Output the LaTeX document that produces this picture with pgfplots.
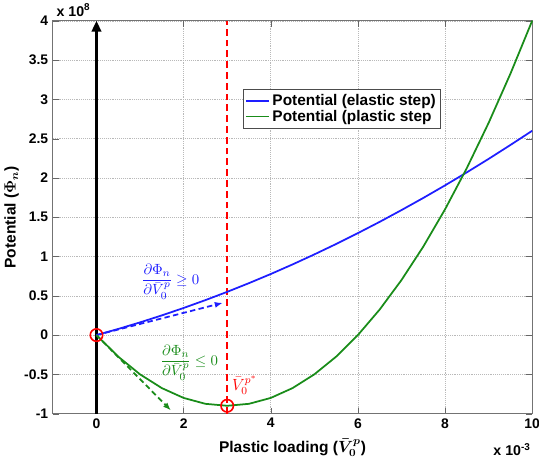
\documentclass[border={0pt 5.5pt -4pt 1.5pt}]{standalone}
\usepackage{fontspec}
\setmainfont{Liberation Sans}
\usepackage{amsmath}
\usepackage{pgfplots}
\pgfplotsset{compat=1.18}
\usetikzlibrary{arrows.meta}
\definecolor{mblue}{RGB}{30,30,255}
\definecolor{mgreen}{RGB}{25,140,25}
\begin{document}
\begin{tikzpicture}
\begin{axis}[
  scale only axis, width=355pt, height=291pt,
  xmin=-1, xmax=10, ymin=-1, ymax=4,
  xtick={0,2,4,6,8,10}, ytick={-1,-0.5,0,0.5,1,1.5,2,2.5,3,3.5,4},
  grid=major, grid style={densely dotted, gray!55},
  axis line style={black!55, line width=0.8pt},
  tick style={black!60},
  ticklabel style={font=\bfseries\fontsize{10.3}{12}\selectfont},
  /pgf/number format/assume math mode=true,
  xlabel={\bfseries Plastic loading ($\boldsymbol{\bar{V}_0^p}$)},
  ylabel={\bfseries Potential ($\boldsymbol{\Phi_n}$)},
  xlabel style={font=\fontsize{11.5}{13}\selectfont, yshift=-1pt},
  ylabel style={font=\fontsize{11.5}{13}\selectfont, yshift=-3pt},
  legend style={at={(rel axis cs:0.396,0.826)}, anchor=north west, font=\bfseries\fontsize{11.4}{13}\selectfont, draw=black!70, inner sep=1.5pt, row sep=-2pt},
  legend cell align=left,
  legend image post style={line width=1.3pt},
  clip=false
]
\addplot[black, line width=1.8pt, -{Triangle[length=8pt,width=7pt]}, forget plot] coordinates {(0,-1) (0,4)};
\addplot[red, dash pattern=on 5pt off 3pt, line width=1.3pt, forget plot] coordinates {(3,-1) (3,4)};
\addplot[mblue, line width=1.3pt] coordinates {
(0,0) (0.5,0.078) (1,0.1615) (1.5,0.2504) (2,0.345) (2.5,0.4448) (3,0.550)
(3.5,0.661) (4,0.777) (4.5,0.899) (5,1.0265) (5.5,1.159) (6,1.2976) (6.5,1.441)
(7,1.5905) (7.5,1.745) (8,1.905) (8.5,2.071) (9,2.242) (9.5,2.419) (10,2.6)};
\addlegendentry{Potential (elastic step)}
\addplot[mgreen, line width=1.3pt] coordinates {
(0,0) (0.5,-0.275) (1,-0.5) (1.5,-0.675) (2,-0.8) (2.5,-0.875) (3,-0.9)
(3.5,-0.875) (4,-0.8) (4.5,-0.675) (5,-0.5) (5.5,-0.275) (6,0) (6.5,0.325)
(7,0.7) (7.5,1.125) (8,1.6) (8.5,2.125) (9,2.7) (9.5,3.325) (10,4.0)};
\addlegendentry{Potential (plastic step}
\addplot[mblue, dash pattern=on 4pt off 2.5pt, line width=1.3pt, -{Latex[length=6pt]}, forget plot] coordinates {(0,0) (2.9,0.41)};
\addplot[mgreen, dash pattern=on 4pt off 2.5pt, line width=1.3pt, -{Latex[length=6pt]}, forget plot] coordinates {(0,0) (1.71,-0.96)};
\addplot[red, only marks, mark=o, mark size=4.6pt, line width=1.2pt, forget plot] coordinates {(0,0) (3,-0.9)};
\node[mblue, font=\fontsize{11}{13}\selectfont] at (axis cs:1.7,0.68) {$\displaystyle\frac{\partial\Phi_n}{\partial\bar{V}_0^p}\geq 0$};
\node[mgreen, font=\fontsize{11}{13}\selectfont] at (axis cs:2.13,-0.35) {$\displaystyle\frac{\partial\Phi_n}{\partial\bar{V}_0^p}\leq 0$};
\node[red, font=\fontsize{12}{14}\selectfont] at (axis cs:3.4,-0.64) {$\bar{V}_0^{p^*}$};
\node[anchor=south west, font=\bfseries\fontsize{10.5}{12}\selectfont, inner sep=1.5pt, xshift=1pt, yshift=1.5pt] at (rel axis cs:0,1) {x 10\textsuperscript{8}};
\node[anchor=north east, font=\bfseries\fontsize{10.5}{12}\selectfont, inner sep=0pt, yshift=-22pt, xshift=-1pt] at (rel axis cs:1,0) {x 10\textsuperscript{-3}};
\end{axis}
\end{tikzpicture}
\end{document}
